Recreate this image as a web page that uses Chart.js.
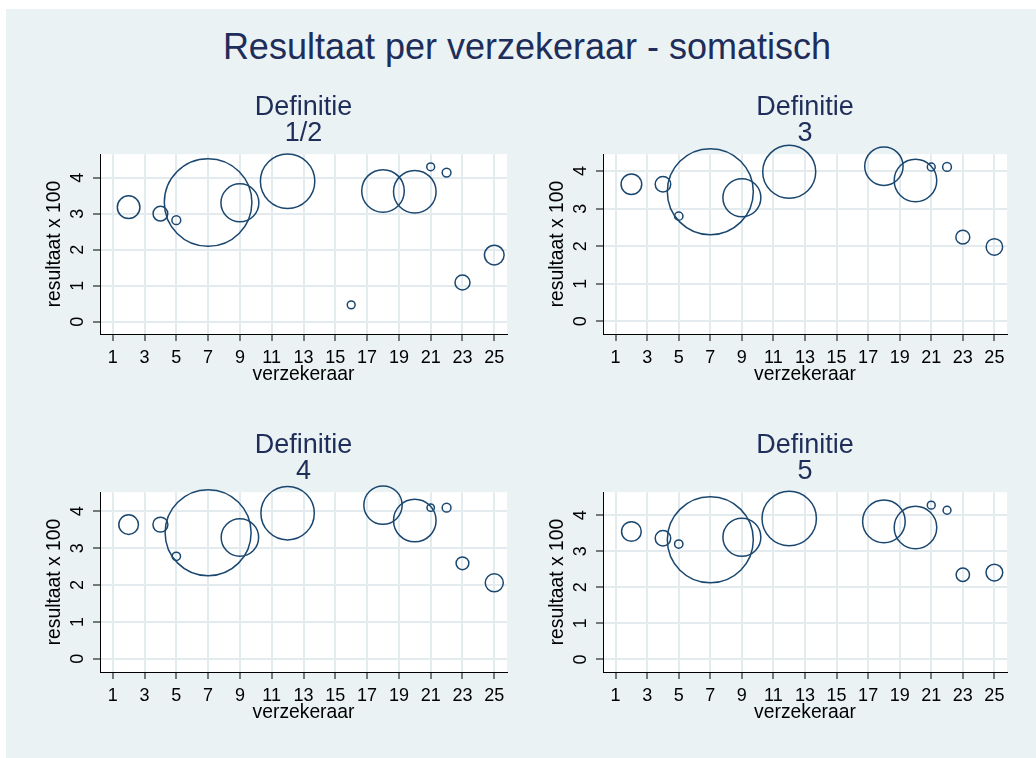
<!DOCTYPE html>
<html>
<head>
<meta charset="utf-8">
<title>Resultaat per verzekeraar - somatisch</title>
<script src="https://cdn.jsdelivr.net/npm/chart.js@4.4.1/dist/chart.umd.min.js"></script>
<style>
  body { margin: 0; background: #fff; font-family: "Liberation Sans", Arial, sans-serif; }
  #graph { position: absolute; left: 6px; top: 9px; width: 1030px; height: 749px; background: #eaf2f3; }
  #titel { position: absolute; left: 0; top: 29px; width: 1054px; text-align: center;
           font-size: 36px; line-height: 36px; color: #1e2d5a; white-space: nowrap; }
  .paneel { position: absolute; }
</style>
</head>
<body>
<div id="graph"></div>
<div id="titel">Resultaat per verzekeraar - somatisch</div>
<div class="paneel" style="left:6px;top:88px;width:512px;height:308px"><canvas id="p1"></canvas></div>
<div class="paneel" style="left:509px;top:88px;width:509px;height:308px"><canvas id="p2"></canvas></div>
<div class="paneel" style="left:6px;top:426px;width:512px;height:308px"><canvas id="p3"></canvas></div>
<div class="paneel" style="left:509px;top:426px;width:509px;height:308px"><canvas id="p4"></canvas></div>
<script>
// verzekeraars (x) en tick labels
var verzekeraar = [2, 4, 5, 7, 9, 12, 16, 18, 20, 21, 22, 23, 25];
var xTicks = [1, 3, 5, 7, 9, 11, 13, 15, 17, 19, 21, 23, 25];
var yTicks = [0, 1, 2, 3, 4];

// resultaat x 100 per definitie (null = geen waarde)
var resultaat12 = [3.18, 3.00, 2.82, 3.31, 3.30, 3.90, 0.47, 3.63, 3.61, 4.30, 4.14, 1.09, 1.85];
var resultaat3  = [3.65, 3.65, 2.80, 3.45, 3.29, 3.98, null, 4.13, 3.75, 4.11, 4.11, 2.24, 1.98];
var resultaat4  = [3.64, 3.64, 2.78, 3.42, 3.29, 3.95, null, 4.17, 3.75, 4.10, 4.10, 2.59, 2.06];
var resultaat5  = [3.55, 3.36, 3.20, 3.32, 3.39, 3.91, null, 3.83, 3.66, 4.28, 4.14, 2.35, 2.41];

// gewicht (omvang) van de bubbels
var gewicht12 = [6.6, 2.8, 1.0, 99.0, 18.6, 38.2, 0.8, 23.4, 23.4, 0.8, 1.0, 2.9, 5.0];
var gewicht3  = [5.5, 3.1, 0.9, 95.5, 18.6, 36.3, null, 19.0, 23.4, 0.8, 1.0, 2.5, 3.5];
var gewicht4  = [5.0, 2.9, 0.9, 95.5, 18.1, 36.8, null, 19.0, 23.4, 0.7, 1.0, 2.1, 4.2];
var gewicht5  = [5.0, 3.1, 0.9, 95.5, 18.6, 38.2, null, 23.4, 23.4, 0.8, 0.8, 2.3, 3.6];

Chart.defaults.font.family = '"Liberation Sans", Arial, sans-serif';

var navy = '#1a476f';
var titelKleur = '#1e2d5a';

var plotVlak = {
  id: 'plotVlak',
  beforeDraw: function (chart) {
    var a = chart.chartArea;
    var ctx = chart.ctx;
    ctx.save();
    ctx.fillStyle = '#ffffff';
    ctx.fillRect(a.left, a.top, a.right - a.left, a.bottom - a.top);
    ctx.restore();
  }
};

function bubbels(res, gew) {
  var punten = [];
  for (var i = 0; i < verzekeraar.length; i++) {
    if (res[i] == null) continue;
    punten.push({ x: verzekeraar[i], y: res[i], r: 4.4 * Math.sqrt(gew[i]) });
  }
  return punten;
}

function paneel(id, titel, res, gew, yMin, yMax) {
  new Chart(document.getElementById(id), {
    type: 'bubble',
    data: {
      datasets: [{
        data: bubbels(res, gew),
        backgroundColor: 'rgba(0,0,0,0)',
        borderColor: navy,
        borderWidth: 1.5,
        hoverRadius: 0,
        clip: false
      }]
    },
    options: {
      responsive: true,
      maintainAspectRatio: false,
      animation: false,
      events: [],
      layout: { autoPadding: false, padding: { left: 0, right: 11, top: 0, bottom: 0 } },
      plugins: {
        legend: { display: false },
        tooltip: { enabled: false },
        title: {
          display: true,
          text: titel,
          fullSize: false,
          color: titelKleur,
          font: { size: 27, weight: 'normal', lineHeight: '26.6px' },
          padding: { top: 6, bottom: 7 }
        }
      },
      scales: {
        x: {
          type: 'linear',
          min: 0.2,
          max: 25.8,
          afterBuildTicks: function (s) { s.ticks = xTicks.map(function (v) { return { value: v }; }); },
          afterFit: function (s) { s.height = 62; },
          grid: { color: '#e3ebee', lineWidth: 2, tickColor: '#000', tickLength: 7, tickWidth: 1 },
          border: { color: '#000', width: 1 },
          ticks: { color: '#000', font: { size: 18 }, padding: 6, maxRotation: 0, autoSkip: false },
          title: { display: true, text: 'verzekeraar', color: '#000', font: { size: 19.3 }, padding: { top: 4, bottom: 9.4 } }
        },
        y: {
          type: 'linear',
          min: yMin,
          max: yMax,
          afterBuildTicks: function (s) { s.ticks = yTicks.map(function (v) { return { value: v }; }); },
          afterFit: function (s) { s.width = 94; },
          grid: { color: '#e3ebee', lineWidth: 2, tickColor: '#000', tickLength: 7, tickWidth: 1 },
          border: { color: '#000', width: 1 },
          ticks: { color: '#000', font: { size: 18 }, padding: 10, minRotation: 90, maxRotation: 90, crossAlign: 'center', autoSkip: false },
          title: { display: true, text: 'resultaat x 100', color: '#000', font: { size: 19.3 }, padding: { top: 37.4, bottom: 0 } }
        }
      }
    },
    plugins: [plotVlak]
  });
}

paneel('p1', ['Definitie', '1/2'], resultaat12, gewicht12, -0.34, 4.65);
paneel('p2', ['Definitie', '3'], resultaat3, gewicht3, -0.34, 4.45);
paneel('p3', ['Definitie', '4'], resultaat4, gewicht4, -0.36, 4.52);
paneel('p4', ['Definitie', '5'], resultaat5, gewicht5, -0.35, 4.64);
</script>
</body>
</html>
